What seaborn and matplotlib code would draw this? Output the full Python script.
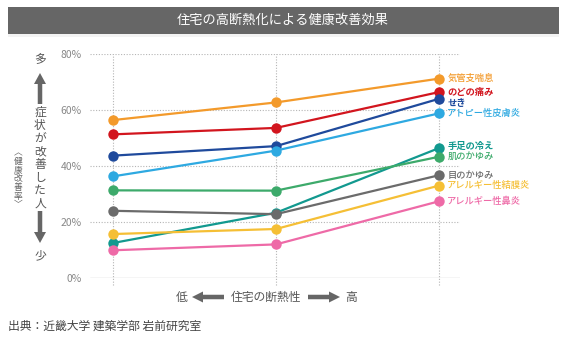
import matplotlib
matplotlib.use("Agg")
import matplotlib.pyplot as plt
from matplotlib.patches import FancyArrow, Rectangle
import seaborn as sns
import pandas as pd

# ---- data ----
symptoms = ['気管支喘息', 'のどの痛み', 'せき', 'アトピー性皮膚炎', '手足の冷え',
            '肌のかゆみ', '目のかゆみ', 'アレルギー性結膜炎', 'アレルギー性鼻炎']
low = [56.4, 51.3, 43.7, 36.3, 12.5, 31.3, 24.0, 15.7, 9.9]
mid = [62.7, 53.6, 47.1, 45.5, 23.3, 31.2, 22.8, 17.5, 12.0]
high = [71.2, 66.4, 64.0, 58.8, 46.4, 43.3, 36.7, 33.0, 27.4]
levels = [0, 1, 2]
yticks = [0, 20, 40, 60, 80]
ytick_labels = ['0%', '20%', '40%', '60%', '80%']
colors = ['#F39A2B', '#D2151E', '#1F4A9C', '#2EA9E1', '#12998F',
          '#3DAA6B', '#6B6B6B', '#F5BF35', '#EE6AA7']
label_weight = ['medium', 'bold', 'bold', 'medium', 'bold',
                'medium', 'medium', 'medium', 'medium']
label_offset = [0, 0, -3.5, 0, 1, 0, 0, 0, 0]

rows = []
for s, a, b, c in zip(symptoms, low, mid, high):
    for lv, v in zip(levels, [a, b, c]):
        rows.append({'symptom': s, 'level': lv, 'value': v})
df = pd.DataFrame(rows)

sns.set_style("white")
plt.rcParams['font.family'] = ['Noto Sans CJK JP', 'DejaVu Sans']

fig = plt.figure(figsize=(5.66, 3.4), dpi=100)
W, H = 566, 340

# overlay axes in pixel coordinates for decorations
deco = fig.add_axes([0, 0, 1, 1], zorder=0)
deco.set_xlim(0, W)
deco.set_ylim(H, 0)
deco.axis('off')

ax = fig.add_axes([90 / W, (H - 278) / H, 370 / W, 224 / H], zorder=1)
ax.patch.set_alpha(0)

# grid
for yv in yticks[1:]:
    ax.axhline(yv, color='#b5b5b5', lw=0.8, ls=(0, (1, 1.5)), zorder=0)
ax.axhline(0, color='#cfcfcf', lw=1.0, zorder=0)
for xv in levels:
    ax.plot([xv, xv], [-2.6, 80], color='#b5b5b5', lw=0.8, ls=(0, (1, 1.5)),
            zorder=0, clip_on=False)

palette = dict(zip(symptoms, colors))
sns.lineplot(data=df, x='level', y='value', hue='symptom', hue_order=symptoms,
             palette=palette, marker='o', markersize=7.5, linewidth=1.6,
             markeredgewidth=0, legend=False, sort=False, ax=ax, zorder=3)

for s, v, c, w, off in zip(symptoms, high, colors, label_weight, label_offset):
    ax.annotate(s, xy=(2, v), xytext=(6, off), textcoords='offset points',
                color=c, fontsize=6.7, fontweight=w, va='center', ha='left',
                annotation_clip=False)

ax.set_xlim(-23 / 163, 2 + 21 / 163)
ax.set_ylim(0, 80)
ax.set_yticks(yticks)
ax.set_yticklabels(ytick_labels, color='#888888', fontsize=7.5)
ax.set_xticks([])
ax.tick_params(axis='y', length=0, pad=6)
ax.set_xlabel('')
ax.set_ylabel('')
for sp in ax.spines.values():
    sp.set_visible(False)

# title bar
deco.add_patch(Rectangle((8, 7), 551, 27, color='#666666', lw=0))
deco.add_patch(Rectangle((8, 34), 551, 3, color='#f3f3f3', lw=0))
deco.text(283, 20.5, '住宅の高断熱化による健康改善効果', color='white',
          fontsize=9.5, ha='center', va='center')

# left vertical annotation
gray = '#666666'
deco.text(40, 60, '多', color='#555555', fontsize=8.5, ha='center', va='center')
deco.add_patch(FancyArrow(40, 104, 0, -31, width=4.5, head_width=12,
                          head_length=11, length_includes_head=True,
                          color=gray, lw=0))
deco.text(40, 158, '\n'.join('症状が改善した人'), color='#555555', fontsize=8.5,
          ha='center', va='center', linespacing=1.0)
deco.add_patch(FancyArrow(40, 211, 0, 32, width=4.5, head_width=12,
                          head_length=11, length_includes_head=True,
                          color=gray, lw=0))
deco.text(40, 256, '少', color='#555555', fontsize=8.5, ha='center', va='center')
deco.text(18, 179, '\n'.join('︿健康改善率﹀'), color='#666666', fontsize=6.3,
          ha='center', va='center', linespacing=0.95)

# bottom annotation
deco.text(182, 297, '低', color='#555555', fontsize=8.5, ha='center', va='center')
deco.add_patch(FancyArrow(224, 297, -32, 0, width=4.5, head_width=11,
                          head_length=11, length_includes_head=True,
                          color=gray, lw=0))
deco.text(266, 297, '住宅の断熱性', color='#555555', fontsize=8.5,
          ha='center', va='center')
deco.add_patch(FancyArrow(308, 297, 32, 0, width=4.5, head_width=11,
                          head_length=11, length_includes_head=True,
                          color=gray, lw=0))
deco.text(351, 297, '高', color='#555555', fontsize=8.5, ha='center', va='center')

deco.text(8, 326, '出典：近畿大学 建築学部 岩前研究室', color='#444444',
          fontsize=8.5, ha='left', va='center')

fig.savefig('out.png', dpi=100)
